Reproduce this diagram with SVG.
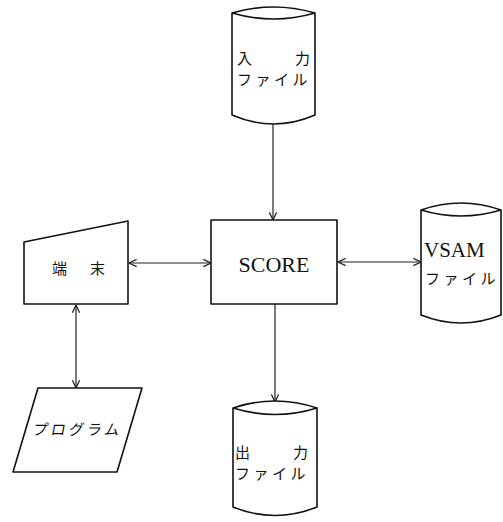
<svg xmlns="http://www.w3.org/2000/svg" width="503" height="522" viewBox="0 0 503 522">
  <style>
    .shape { fill: #fff; stroke: #111; stroke-width: 1.6; stroke-linejoin: round; }
    .conn { fill: none; stroke: #222; stroke-width: 1.2; }
    .jp { font-family: "Noto Sans CJK JP", "Noto Sans", sans-serif; font-size: 15px; fill: #111; }
    .en { font-family: "Liberation Serif", "DejaVu Serif", serif; fill: #111; }
  </style>
  <defs>
    <marker id="arrow" viewBox="0 0 10 10" refX="9.5" refY="5" markerWidth="9" markerHeight="9" markerUnits="userSpaceOnUse" orient="auto-start-reverse">
      <path d="M1,1 L9.5,5 L1,9" fill="none" stroke="#222" stroke-width="1.4"/>
    </marker>
  </defs>
  <rect width="503" height="522" fill="#fff"/>

  <!-- connectors -->
  <g id="connectors">
    <line class="conn" x1="273" y1="124" x2="273" y2="220" marker-end="url(#arrow)"/>
    <line class="conn" x1="129" y1="263" x2="211" y2="263" marker-start="url(#arrow)" marker-end="url(#arrow)"/>
    <line class="conn" x1="338" y1="262" x2="421" y2="262" marker-start="url(#arrow)" marker-end="url(#arrow)"/>
    <line class="conn" x1="76" y1="305" x2="76" y2="388" marker-start="url(#arrow)" marker-end="url(#arrow)"/>
    <line class="conn" x1="275" y1="304" x2="275" y2="402" marker-end="url(#arrow)"/>
  </g>

  <!-- input file -->
  <g id="input-file">
    <path class="shape" d="M232,13 Q273.5,1 315,13 L315,115 Q273.5,133 232,115 Z"/>
    <path class="shape" fill="none" d="M232,13 Q273.5,25 315,13"/>
    <text class="jp" x="237" y="64">入</text>
    <text class="jp" x="295" y="64">力</text>
    <text class="jp" x="237" y="85" letter-spacing="3.5">ファイル</text>
  </g>

  <!-- SCORE -->
  <g id="score">
    <rect class="shape" x="211" y="220" width="126" height="84"/>
    <text class="en" x="274" y="272" font-size="22" text-anchor="middle">SCORE</text>
  </g>

  <!-- VSAM file -->
  <g id="vsam-file">
    <path class="shape" d="M421,210 Q461,196 501,210 L501,315 Q461,331 421,315 Z"/>
    <path class="shape" fill="none" d="M421,210 Q461,222 501,210"/>
    <text class="en" x="424" y="257" font-size="21">VSAM</text>
    <text class="jp" x="425" y="284" letter-spacing="3.5">ファイル</text>
  </g>

  <!-- terminal -->
  <g id="terminal">
    <path class="shape" d="M24,242 L128,221 L128,304 L24,304 Z"/>
    <text class="jp" x="52" y="274">端</text>
    <text class="jp" x="90" y="274">末</text>
  </g>

  <!-- program -->
  <g id="program">
    <path class="shape" d="M38,388 L142,388 L117,472 L13,472 Z"/>
    <text class="jp" x="0" y="0" letter-spacing="3" transform="translate(32,435) skewX(-10)">プログラム</text>
  </g>

  <!-- output file -->
  <g id="output-file">
    <path class="shape" d="M233,408 Q275,394 317,408 L317,507 Q275,524 233,507 Z"/>
    <path class="shape" fill="none" d="M233,408 Q275,421 317,408"/>
    <text class="jp" x="235" y="458">出</text>
    <text class="jp" x="293" y="458">力</text>
    <text class="jp" x="235" y="479" letter-spacing="3.5">ファイル</text>
  </g>
</svg>
